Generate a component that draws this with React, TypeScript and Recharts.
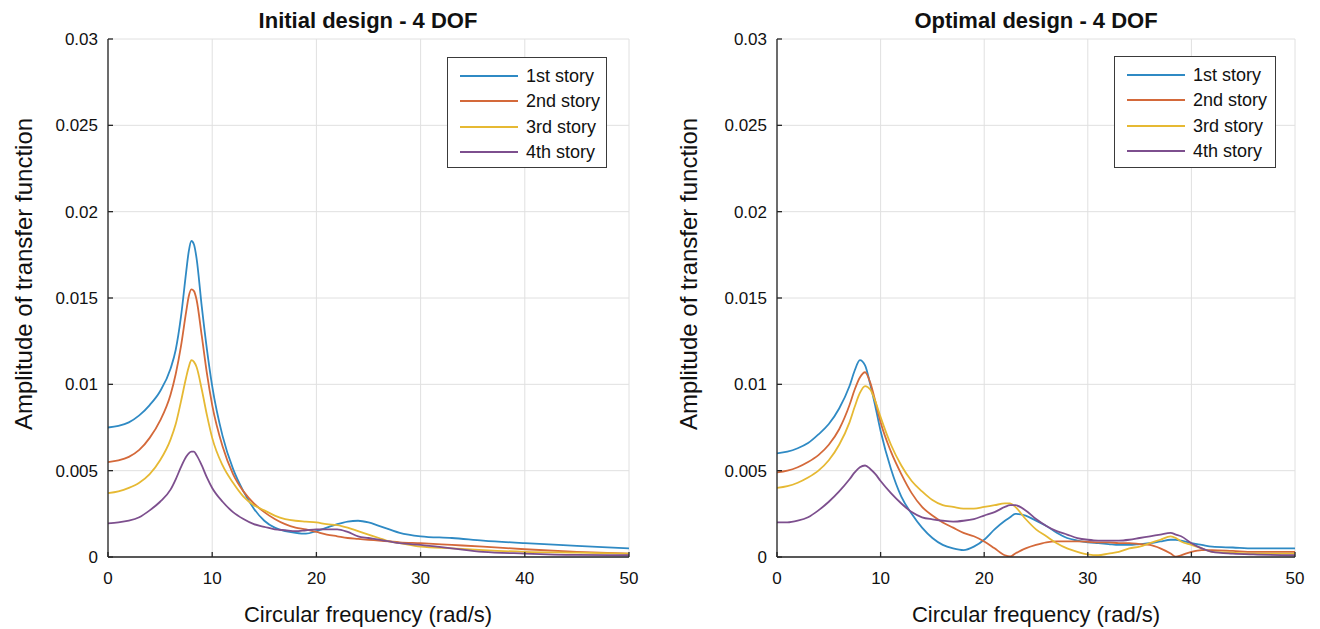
import React from 'react';
import { LineChart, Line, XAxis, YAxis, CartesianGrid } from 'recharts';

// ---------- data ----------
const STORIES = ['1st story', '2nd story', '3rd story', '4th story'];
const X_TICKS = [0, 10, 20, 30, 40, 50];
const Y_TICKS = [0, 0.005, 0.01, 0.015, 0.02, 0.025, 0.03];

const INITIAL_FREQ = [0, 1, 2, 3, 4, 5, 6, 6.5, 7, 7.5, 7.75, 8, 8.25, 8.5, 9, 9.5, 10, 11, 12, 13, 14, 15, 16, 17, 18, 19, 20, 21, 22, 23, 24, 25, 26, 27, 28, 30, 33, 36, 40, 45, 50];
const INITIAL_S1 = [0.0075, 0.0076, 0.0078, 0.0082, 0.0088, 0.0096, 0.0109, 0.0120, 0.0139, 0.0165, 0.0177, 0.0183, 0.0181, 0.0173, 0.0145, 0.0120, 0.0099, 0.0070, 0.0051, 0.0038, 0.0028, 0.0021, 0.0017, 0.0015, 0.0014, 0.00135, 0.0015, 0.0017, 0.0019, 0.00205, 0.0021, 0.0020, 0.0018, 0.0016, 0.0014, 0.0012, 0.0011, 0.00095, 0.0008, 0.00065, 0.0005];
const INITIAL_S2 = [0.0055, 0.0056, 0.0058, 0.0062, 0.0069, 0.0079, 0.0094, 0.0106, 0.0122, 0.0142, 0.0151, 0.0155, 0.0154, 0.0149, 0.0128, 0.0106, 0.0088, 0.0064, 0.0048, 0.0038, 0.0031, 0.0026, 0.0022, 0.0019, 0.0017, 0.0016, 0.00145, 0.0013, 0.0012, 0.0011, 0.00105, 0.0010, 0.00095, 0.0009, 0.00085, 0.0008, 0.0007, 0.0006, 0.00045, 0.0003, 0.0002];
const INITIAL_S3 = [0.0037, 0.0038, 0.0040, 0.0043, 0.0048, 0.0056, 0.0068, 0.0077, 0.0090, 0.0104, 0.0110, 0.0114, 0.0113, 0.0110, 0.0097, 0.0082, 0.0069, 0.0053, 0.0043, 0.0035, 0.0030, 0.0027, 0.0024, 0.0022, 0.0021, 0.00205, 0.0020, 0.0019, 0.00185, 0.0017, 0.0015, 0.0013, 0.0011, 0.0009, 0.0008, 0.0006, 0.0005, 0.0004, 0.0003, 0.00025, 0.0002];
const INITIAL_S4 = [0.00195, 0.0020, 0.0021, 0.0023, 0.0027, 0.0032, 0.0039, 0.0045, 0.0052, 0.0058, 0.0060, 0.0061, 0.0061, 0.0059, 0.0053, 0.0046, 0.0040, 0.0032, 0.0026, 0.0022, 0.0019, 0.00175, 0.0016, 0.00155, 0.0015, 0.00155, 0.0016, 0.0016, 0.0016, 0.00145, 0.0012, 0.0011, 0.0010, 0.0009, 0.0008, 0.0007, 0.0005, 0.0003, 0.0002, 0.00012, 0.0001];

const OPTIMAL_FREQ = [0, 1, 2, 3, 4, 5, 6, 7, 7.5, 8, 8.5, 9, 9.5, 10, 11, 12, 13, 14, 15, 16, 17, 18, 19, 20, 21, 22, 22.5, 23, 24, 25, 26, 27, 28, 29, 30, 31, 32, 33, 34, 35, 36, 37, 38, 38.5, 39, 40, 41, 42, 44, 46, 50];
const OPTIMAL_S1 = [0.0060, 0.0061, 0.0063, 0.0066, 0.0071, 0.0077, 0.0086, 0.0099, 0.0108, 0.0114, 0.0111, 0.0100, 0.0087, 0.0073, 0.0051, 0.0035, 0.0025, 0.0017, 0.0011, 0.0007, 0.0005, 0.0004, 0.0006, 0.0010, 0.0016, 0.0021, 0.0023, 0.0025, 0.0024, 0.0021, 0.0018, 0.0014, 0.0011, 0.00095, 0.00085, 0.0008, 0.00075, 0.0007, 0.0007, 0.00075, 0.0008, 0.0009, 0.0010, 0.0010, 0.00095, 0.0008, 0.0007, 0.0006, 0.00055, 0.0005, 0.0005];
const OPTIMAL_S2 = [0.0049, 0.0050, 0.0052, 0.0055, 0.0059, 0.0065, 0.0074, 0.0088, 0.0097, 0.0104, 0.0107, 0.0101, 0.0090, 0.0078, 0.0061, 0.0048, 0.0037, 0.0029, 0.0024, 0.0020, 0.0017, 0.0014, 0.0012, 0.0009, 0.0005, 0.0001, 0.00003, 0.0002, 0.0005, 0.0007, 0.00085, 0.0009, 0.0009, 0.0009, 0.00088, 0.00085, 0.00085, 0.0008, 0.0008, 0.00075, 0.0007, 0.0005, 0.0002, 0.00002, 0.0001, 0.0003, 0.0004, 0.0004, 0.00035, 0.0003, 0.0003];
const OPTIMAL_S3 = [0.0040, 0.0041, 0.0043, 0.0046, 0.0050, 0.0056, 0.0065, 0.0078, 0.0087, 0.0095, 0.0099, 0.0097, 0.0090, 0.0081, 0.0065, 0.0053, 0.0044, 0.0038, 0.0033, 0.0030, 0.0029, 0.0028, 0.0028, 0.0029, 0.0030, 0.0031, 0.0031, 0.0029, 0.0022, 0.0016, 0.0012, 0.0008, 0.0005, 0.0003, 0.00015, 0.0001, 0.0002, 0.0003, 0.0005, 0.0006, 0.0008, 0.0010, 0.0012, 0.0011, 0.0009, 0.0007, 0.0005, 0.0003, 0.00025, 0.0002, 0.0002];
const OPTIMAL_S4 = [0.0020, 0.0020, 0.0021, 0.0023, 0.0027, 0.0032, 0.0038, 0.0045, 0.0049, 0.0052, 0.0053, 0.0051, 0.0048, 0.0044, 0.0037, 0.0031, 0.0026, 0.0023, 0.00218, 0.0021, 0.00205, 0.0021, 0.0022, 0.0024, 0.0026, 0.0029, 0.0030, 0.0030, 0.0027, 0.0022, 0.0018, 0.0015, 0.0013, 0.0011, 0.0010, 0.00095, 0.00095, 0.00095, 0.0010, 0.0011, 0.0012, 0.0013, 0.0014, 0.0013, 0.0012, 0.0008, 0.0005, 0.0003, 0.0002, 0.00015, 0.0001];

// ---------- styles ----------
const COLORS = ['#2f8ac4', '#d4693a', '#e6b933', '#7d4f8e'];
const FONT = '"Liberation Sans", Arial, Helvetica, sans-serif';
const AXIS = '#262626';

type Box = { left: number; top: number; width: number; height: number };
type PanelProps = {
  left: number;
  title: string;
  freq: number[];
  series: number[][];
  margin: { top: number; right: number; bottom: number; left: number };
  legendPos: Box;
  titleX: number;
  yLabelX: number;
};

function LegendBox({ pos }: { pos: Box }) {
  return (
    <div
      style={{
        position: 'absolute',
        left: pos.left,
        top: pos.top,
        width: pos.width,
        height: pos.height,
        boxSizing: 'border-box',
        border: '1.3px solid #3a3a3a',
        background: '#fff',
        fontFamily: FONT,
      }}
    >
      {STORIES.map((name, i) => (
        <div key={name} style={{ position: 'absolute', left: 0, top: 18 + i * 25.3 - 11, height: 22, width: pos.width - 4 }}>
          <svg width={75} height={22} style={{ position: 'absolute', left: 0, top: 0 }}>
            <line x1={12} x2={70} y1={11} y2={11} stroke={COLORS[i]} strokeWidth={1.8} />
          </svg>
          <span
            style={{
              position: 'absolute',
              left: 78,
              top: 0,
              lineHeight: '22px',
              fontSize: 18,
              color: '#111',
              whiteSpace: 'nowrap',
            }}
          >
            {name}
          </span>
        </div>
      ))}
    </div>
  );
}

function Panel({ left, title, freq, series, margin, legendPos, titleX, yLabelX }: PanelProps) {
  const data = freq.map((f, i) => {
    const row: Record<string, number> = { f };
    series.forEach((s, k) => {
      row['s' + k] = s[i];
    });
    return row;
  });
  const W = 660;
  const H = 629;
  return (
    <div style={{ position: 'absolute', left, top: 0, width: W, height: H }}>
      <LineChart width={W} height={H} data={data} margin={margin}>
        <CartesianGrid stroke="#e0e0e0" strokeWidth={1} />
        <XAxis
          type="number"
          dataKey="f"
          domain={[0, 50]}
          ticks={X_TICKS}
          interval={0}
          height={30}
          tickSize={-5}
          tickMargin={20}
          allowDataOverflow
          axisLine={{ stroke: AXIS, strokeWidth: 1.3 }}
          tickLine={{ stroke: AXIS, strokeWidth: 1.3 }}
          tick={{ fill: '#111', fontSize: 17, fontFamily: FONT }}
        />
        <YAxis
          type="number"
          domain={[0, 0.03]}
          ticks={Y_TICKS}
          interval={0}
          width={60}
          tickSize={-5}
          tickMargin={15}
          allowDataOverflow
          tickFormatter={(v: number) => String(v)}
          axisLine={{ stroke: AXIS, strokeWidth: 1.3 }}
          tickLine={{ stroke: AXIS, strokeWidth: 1.3 }}
          tick={{ fill: '#111', fontSize: 17, fontFamily: FONT }}
        />
        {series.map((_, k) => (
          <Line
            key={k}
            dataKey={'s' + k}
            name={STORIES[k]}
            type="monotone"
            stroke={COLORS[k]}
            strokeWidth={1.8}
            dot={false}
            activeDot={false}
            isAnimationActive={false}
          />
        ))}
      </LineChart>
      <LegendBox pos={legendPos} />
      <svg
        width={W}
        height={H}
        style={{ position: 'absolute', left: 0, top: 0, pointerEvents: 'none' }}
        fontFamily={FONT}
      >
        <text x={titleX} y={28} textAnchor="middle" fontSize={22} fontWeight="bold" fill="#111">
          {title}
        </text>
        <text x={titleX} y={622} textAnchor="middle" fontSize={22} fill="#111">
          Circular frequency (rad/s)
        </text>
        <text
          transform={`translate(${yLabelX},274) rotate(-90)`}
          textAnchor="middle"
          dominantBaseline="central"
          fontSize={24}
          fill="#111"
        >
          Amplitude of transfer function
        </text>
      </svg>
    </div>
  );
}

export default function App() {
  return (
    <div
      style={{
        position: 'absolute',
        left: 0,
        top: 0,
        width: 1320,
        height: 629,
        background: '#fff',
        overflow: 'hidden',
        fontFamily: FONT,
      }}
    >
      <Panel
        left={0}
        title="Initial design - 4 DOF"
        freq={INITIAL_FREQ}
        series={[INITIAL_S1, INITIAL_S2, INITIAL_S3, INITIAL_S4]}
        margin={{ top: 39, right: 31, bottom: 42, left: 48 }}
        legendPos={{ left: 447, top: 57, width: 160, height: 111 }}
        titleX={368}
        yLabelX={23}
      />
      <Panel
        left={660}
        title="Optimal design - 4 DOF"
        freq={OPTIMAL_FREQ}
        series={[OPTIMAL_S1, OPTIMAL_S2, OPTIMAL_S3, OPTIMAL_S4]}
        margin={{ top: 39, right: 25, bottom: 42, left: 57 }}
        legendPos={{ left: 454, top: 56, width: 162, height: 112 }}
        titleX={376}
        yLabelX={28}
      />
    </div>
  );
}
